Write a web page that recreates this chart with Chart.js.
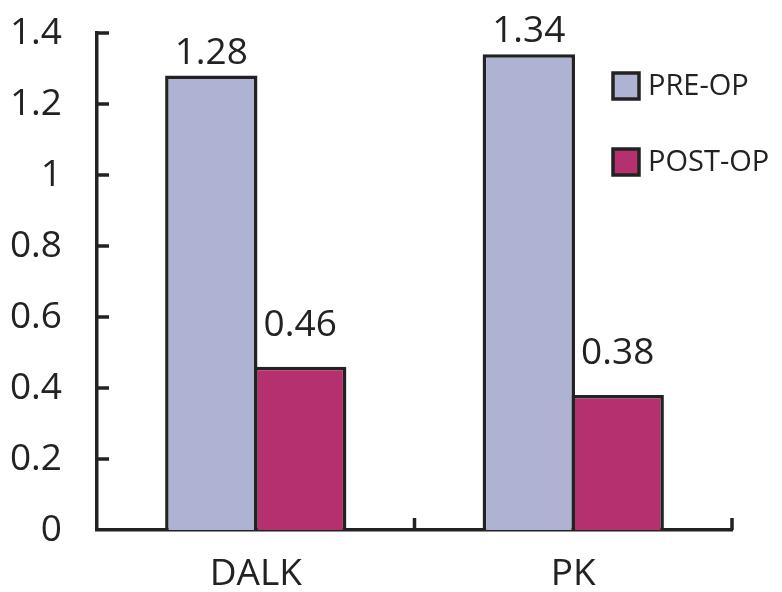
<!DOCTYPE html>
<html>
<head>
<meta charset="utf-8">
<script src="https://cdn.jsdelivr.net/npm/chart.js@4/dist/chart.umd.min.js"></script>
<style>
  html, body { margin: 0; padding: 0; background: #ffffff; }
  #wrap { width: 782px; height: 592px; }
</style>
</head>
<body>
<div id="wrap"><canvas id="c" width="782" height="592"></canvas></div>
<script>
const categories = ['DALK', 'PK'];
const seriesNames = ['PRE-OP', 'POST-OP'];
const preOp = [1.28, 1.34];
const postOp = [0.46, 0.38];
const yMin = 0, yMax = 1.4, yStep = 0.2;

const INK = '#222222';
const FONT = '"Open Sans", "DejaVu Sans", sans-serif';

const innerTicks = {
  id: 'innerTicks',
  afterDatasetsDraw(chart) {
    const ctx = chart.ctx, a = chart.chartArea;
    const x = chart.scales.x, y = chart.scales.y;
    ctx.save();
    ctx.strokeStyle = INK;
    ctx.lineWidth = 3.5;
    ctx.beginPath();
    y.ticks.forEach(t => {
      if (t.value === yMin) return;
      const py = y.getPixelForValue(t.value);
      ctx.moveTo(a.left, py); ctx.lineTo(a.left + 12, py);
    });
    const half = (x.getPixelForValue(1) - x.getPixelForValue(0)) / 2;
    categories.forEach((c, i) => {
      const px = x.getPixelForValue(i) + half;
      ctx.moveTo(px, a.bottom); ctx.lineTo(px, a.bottom - 12);
    });
    ctx.stroke();
    ctx.restore();
  }
};

const valueLabels = {
  id: 'valueLabels',
  afterDatasetsDraw(chart) {
    const ctx = chart.ctx;
    ctx.save();
    ctx.fillStyle = INK;
    ctx.font = '37px ' + FONT;
    ctx.textAlign = 'center';
    ctx.textBaseline = 'alphabetic';
    chart.data.datasets.forEach((ds, di) => {
      const meta = chart.getDatasetMeta(di);
      meta.data.forEach((bar, i) => {
        ctx.fillText(ds.data[i].toFixed(2), bar.x, bar.y - ds.labelOffset);
      });
    });
    ctx.restore();
  }
};

const sideLegend = {
  id: 'sideLegend',
  afterDraw(chart) {
    const ctx = chart.ctx;
    ctx.save();
    chart.data.datasets.forEach((ds, i) => {
      const bx = 613, by = 73 + i * 76, s = 26;
      ctx.fillStyle = ds.backgroundColor;
      ctx.fillRect(bx, by, s, s);
      ctx.strokeStyle = INK;
      ctx.lineWidth = 3.5;
      ctx.strokeRect(bx, by, s, s);
      ctx.fillStyle = INK;
      ctx.font = '29px ' + FONT;
      ctx.textAlign = 'left';
      ctx.textBaseline = 'middle';
      ctx.fillText(ds.label, bx + 35, by + s / 2 + 1);
    });
    ctx.restore();
  }
};

new Chart(document.getElementById('c'), {
  type: 'bar',
  data: {
    labels: categories,
    datasets: [
      { label: seriesNames[0], data: preOp, backgroundColor: '#AEB3D3',
        borderColor: INK, borderWidth: 3.5, labelOffset: 12 },
      { label: seriesNames[1], data: postOp, backgroundColor: '#B4306F',
        borderColor: INK, borderWidth: 3.5, labelOffset: 31 }
    ]
  },
  options: {
    responsive: false,
    animation: false,
    layout: { padding: { top: 33, right: 50, left: 0, bottom: 0 } },
    plugins: { legend: { display: false }, tooltip: { enabled: false } },
    datasets: { bar: { categoryPercentage: 0.56, barPercentage: 1.039 } },
    scales: {
      x: {
        grid: { display: false, drawTicks: false },
        border: { display: true, color: INK, width: 3.5 },
        ticks: { color: INK, font: { family: FONT, size: 37 }, padding: 22 },
        afterFit(s) { s.height = 62; s.paddingLeft = 0; s.paddingRight = 0; }
      },
      y: {
        min: yMin, max: yMax,
        grid: { display: false, drawTicks: false },
        border: { display: true, color: INK, width: 3.5 },
        ticks: {
          stepSize: yStep, color: INK, font: { family: FONT, size: 37 }, padding: 35,
          callback: v => String(Number(v.toFixed(1)))
        },
        afterFit(s) { s.width = 97; s.paddingTop = 0; s.paddingBottom = 0; }
      }
    }
  },
  plugins: [innerTicks, valueLabels, sideLegend]
});
</script>
</body>
</html>
